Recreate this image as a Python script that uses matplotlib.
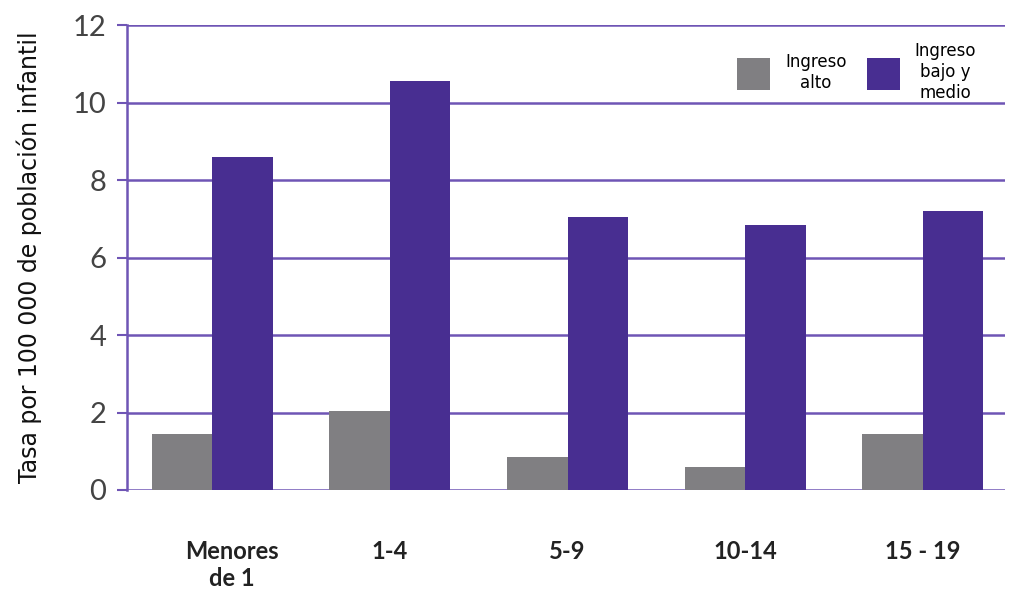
import matplotlib.pyplot as plt
import matplotlib.transforms as mtransforms
import numpy as np

grupos = ['Menores\nde 1', '1-4', '5-9', '10-14', '15 - 19']
ingreso_alto = [1.45, 2.05, 0.85, 0.6, 1.45]
ingreso_bajo_medio = [8.6, 10.55, 7.05, 6.85, 7.2]
yticks = [0, 2, 4, 6, 8, 10, 12]

gris = '#807f82'
morado = '#482e91'
linea = '#6f55b5'

fig = plt.figure(figsize=(10.11, 5.9), dpi=100)
ax = fig.add_axes([0.1256, 0.1695, 0.868, 0.788])

x = np.arange(len(grupos))
w = 0.34
ax.bar(x - w/2, ingreso_alto, w, color=gris, label='Ingreso\nalto', zorder=3)
ax.bar(x + w/2, ingreso_bajo_medio, w, color=morado, label='Ingreso\nbajo y\nmedio', zorder=3)

ax.set_ylim(0, 12)
ax.set_xlim(-0.48, 4.46)
ax.set_yticks(yticks)
ax.set_yticklabels([str(t) for t in yticks], fontsize=21, color='#444444', family='Lato')
ax.yaxis.grid(True, color=linea, lw=1.8, zorder=1)
ax.set_axisbelow(True)
ax.tick_params(axis='y', direction='out', length=7, width=1.5, color=linea, pad=8)

ax.set_xticks(x)
ax.set_xticklabels(grupos, fontsize=17, fontweight='bold', color='#222222', family='Lato')
ax.tick_params(axis='x', length=0, pad=36)
# la primera etiqueta esta algo desplazada a la derecha en el original
lab0 = ax.get_xticklabels()[0]
lab0.set_transform(lab0.get_transform() + mtransforms.ScaledTranslation(0.2, 0, fig.dpi_scale_trans))

for s in ['top', 'right', 'bottom']:
    ax.spines[s].set_visible(False)
ax.spines['left'].set_color(linea)
ax.spines['left'].set_linewidth(1.8)

ax.set_ylabel('Tasa por 100 000 de población infantil', fontsize=17, color='#111111',
              labelpad=22)

leg = ax.legend(ncol=2, loc='upper right', bbox_to_anchor=(0.985, 0.995), frameon=False,
                fontsize=12, handlelength=2.0, handleheight=2.6,
                columnspacing=1.2, handletextpad=0.9)
for t in leg.get_texts():
    t.set_multialignment('center')

fig.savefig('out.png', dpi=100)
